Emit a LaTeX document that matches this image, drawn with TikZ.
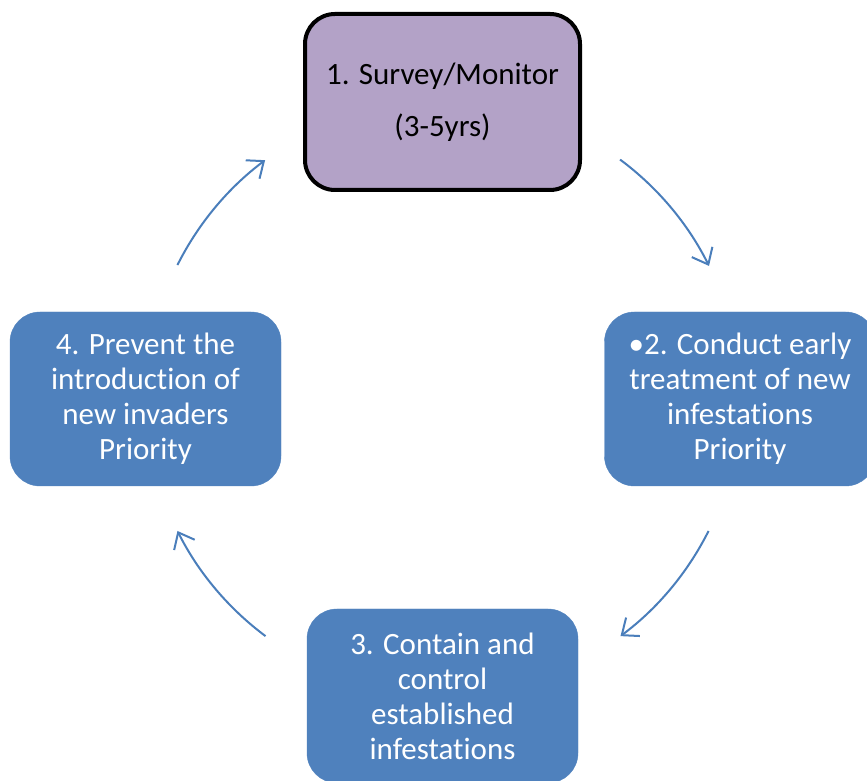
\documentclass[tikz,border=0pt]{standalone}
\usepackage{fontspec}
\setmainfont[Ligatures=NoCommon]{Carlito}
\usepackage{tikz}
\usetikzlibrary{positioning, arrows.meta, calc}
\definecolor{stepBlue}{HTML}{4F81BD}
\definecolor{stepPurple}{HTML}{B3A2C7}
\definecolor{cycleArrow}{HTML}{4A7EBB}
\newcommand{\stagefont}{\fontsize{31}{35}\selectfont}

\begin{document}
\begin{tikzpicture}[x=1pt, y=1pt,
  stage/.style={rounded corners=30pt, fill=stepBlue, draw=stepBlue, text=white, align=center, minimum width=271pt, minimum height=174pt, inner sep=0pt, font=\stagefont},
  cyc/.style={draw=cycleArrow, line width=2pt, -{Straight Barb[length=14pt, width=23pt, line width=2pt]}}]
\useasboundingbox (0,0) rectangle (867,781);
% four steps of the cycle
\node[stage, fill=stepPurple, draw=black, line width=4pt, text=black, minimum width=275pt, minimum height=176pt] (survey) at (442.5,679) {1. Survey/Monitor\\[17pt](3-5yrs)};
\node[stage] (treat) at (740,382) {\textbullet2. Conduct early\\treatment of new\\infestations\\Priority};
\node[stage] (contain) at (442.5,85) {3. Contain and\\control\\established\\infestations};
\node[stage] (prevent) at (145.5,382) {4. Prevent the\\introduction of\\new invaders\\Priority};
% arrows on a circle round the middle
\coordinate (hub) at (443,383);
\foreach \i/\a/\b in {1/53.4/26.4, 2/-26.6/-53.3, 3/-126.7/-153.4, 4/153.4/126.8}
{\coordinate (from\i) at ($(hub)+(\a:297)$);
 \draw[cyc] (from\i) arc[start angle=\a, end angle=\b, radius=297];}
\end{tikzpicture}
\end{document}
